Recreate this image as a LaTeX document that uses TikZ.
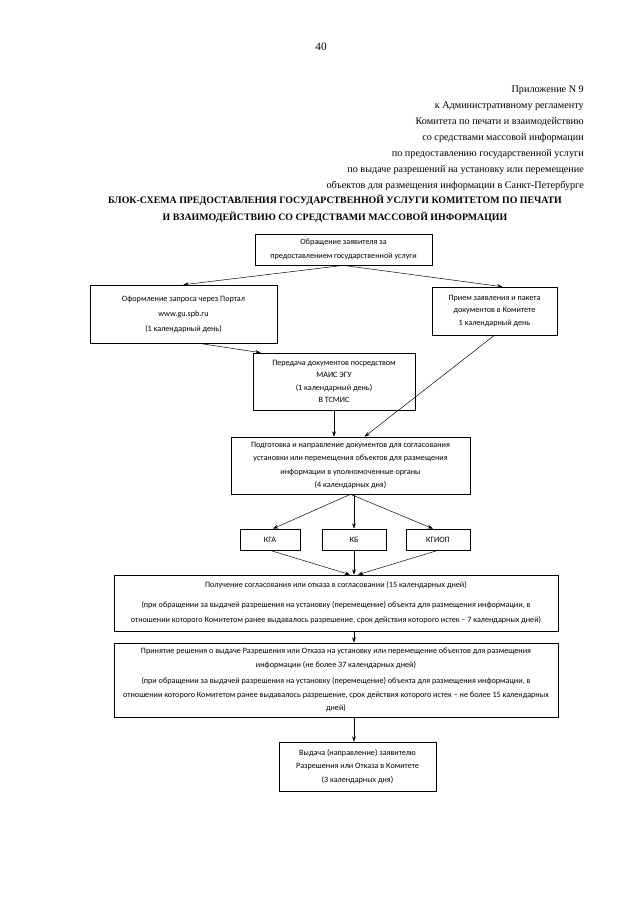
\documentclass[tikz,border=0pt]{standalone}
\usepackage{fontspec}
\setmainfont{Liberation Serif}
\newfontfamily\calibri{Carlito}
\usetikzlibrary{arrows.meta,calc}

\begin{document}
\begin{tikzpicture}[x=0.328125mm, y=-0.328125mm,
  every node/.style={inner sep=0pt},
  blok/.style={draw, line width=0.6pt, align=center, font=\calibri\fontsize{7.6}{12.5}\selectfont},
  strelka/.style={-{Stealth[length=5pt,width=3.5pt]}, line width=0.45pt}]
  % Page frame
  \useasboundingbox[fill=white] (0,0) rectangle (640,905);

  % Page number and header
  \node[font=\fontsize{10.5}{15}\selectfont] (nomer) at (321,47) {40};
  \node[anchor=north east, align=right, font=\fontsize{9.5}{14.9}\selectfont] (shapka) at (584,86) {
    Приложение N 9\\
    к Административному регламенту\\
    Комитета по печати и взаимодействию\\
    со средствами массовой информации\\
    по предоставлению государственной услуги\\
    по выдаче разрешений на установку или перемещение\\
    объектов для размещения информации в Санкт-Петербурге};

  % Title
  \node[align=center, font=\bfseries\fontsize{9.2}{16}\selectfont] (zagolovok) at (335,209) {
    БЛОК-СХЕМА ПРЕДОСТАВЛЕНИЯ ГОСУДАРСТВЕННОЙ УСЛУГИ КОМИТЕТОМ ПО ПЕЧАТИ\\
    И ВЗАИМОДЕЙСТВИЮ СО СРЕДСТВАМИ МАССОВОЙ ИНФОРМАЦИИ};

  % Boxes
  \node[blok, minimum width=58mm, minimum height=10.2mm] (obr) at (343.5,249.5)
    {Обращение заявителя за\\предоставлением государственной услуги};
  \node[blok, minimum width=61.4mm, minimum height=19mm, font=\calibri\fontsize{7.6}{14}\selectfont] (portal) at (183.5,314)
    {Оформление запроса через Портал\\www.gu.spb.ru\\(1 календарный день)};
  \node[blok, minimum width=41mm, minimum height=15.7mm, font=\calibri\fontsize{7.6}{11.5}\selectfont] (priem) at (494.5,311)
    {Прием заявления и пакета\\документов в Комитете\\1 календарный день};
  \node[blok, minimum width=53.2mm, minimum height=18.7mm, font=\calibri\fontsize{7.6}{11.5}\selectfont] (mais) at (334,381.5)
    {Передача документов посредством\\МАИС ЭГУ\\(1 календарный день)\\В ТСМИС};
  \node[blok, minimum width=78.4mm, minimum height=18.7mm] (prep) at (350.5,465.5)
    {Подготовка и направление документов для согласования\\
     установки или перемещения объектов для размещения\\
     информации в уполномоченные органы\\(4 календарных дня)};

  \node[blok, minimum width=19.7mm, minimum height=6.9mm] (kga) at (270,539.5) {КГА};
  \node[blok, minimum width=21mm, minimum height=6.9mm] (kb) at (354,539.5) {КБ};
  \node[blok, minimum width=21mm, minimum height=6.9mm] (kgiop) at (438,539.5) {КГИОП};

  \node[blok, minimum width=145.7mm, minimum height=18.4mm, font=\calibri\fontsize{7.6}{14}\selectfont] (sogl) at (336,603)
    {Получение согласования или отказа в согласовании (15 календарных дней)\\[5pt]
     (при обращении за выдачей разрешения на установку (перемещение) объекта для размещения информации, в\\
     отношении которого Комитетом ранее выдавалось разрешение, срок действия которого истек – 7 календарных дней)};
  \node[blok, minimum width=145.7mm, minimum height=24.3mm] (resh) at (336,680)
    {Принятие решения о выдаче Разрешения или Отказа на установку или перемещение объектов для размещения\\
     информации (не более 37 календарных дней)\\[3pt]
     (при обращении за выдачей разрешения на установку (перемещение) объекта для размещения информации, в\\
     отношении которого Комитетом ранее выдавалось разрешение, срок действия которого истек – не более 15 календарных\\
     дней)};
  \node[blok, minimum width=51.5mm, minimum height=16.1mm] (vydacha) at (357.5,766.5)
    {Выдача (направление) заявителю\\Разрешения или Отказа в Комитете\\(3 календарных дня)};

  % Connectors
  \draw[strelka] (obr.south) -- (portal.north);
  \draw[strelka] (obr.south) -- ($(priem.north)+(8,0)$);
  \draw[strelka] ($(portal.south)+(15,0)$) -- ($(mais.north west)+(8,0)$);
  \draw[strelka] (priem.south) -- ($(prep.north)+(14,0)$);
  \draw[strelka] (mais.south) -- (mais.south |- prep.north);
  \draw[strelka] (prep.south) -- ($(kga.north)+(3,0)$);
  \draw[strelka] (prep.south -| kb.north) -- (kb.north);
  \draw[strelka] (prep.south) -- ($(kgiop.north)+(-5,0)$);
  \draw[strelka] (kga.south) -- ($(kb.south |- sogl.north)+(-4,0)$);
  \draw[strelka] (kb.south) -- (kb.south |- sogl.north);
  \draw[strelka] (kgiop.south) -- ($(kb.south |- sogl.north)+(4,0)$);
  \draw[strelka] (kb.south |- sogl.south) -- (kb.south |- resh.north);
  \draw[strelka] (kb.south |- resh.south) -- (kb.south |- vydacha.north);
\end{tikzpicture}
\end{document}
